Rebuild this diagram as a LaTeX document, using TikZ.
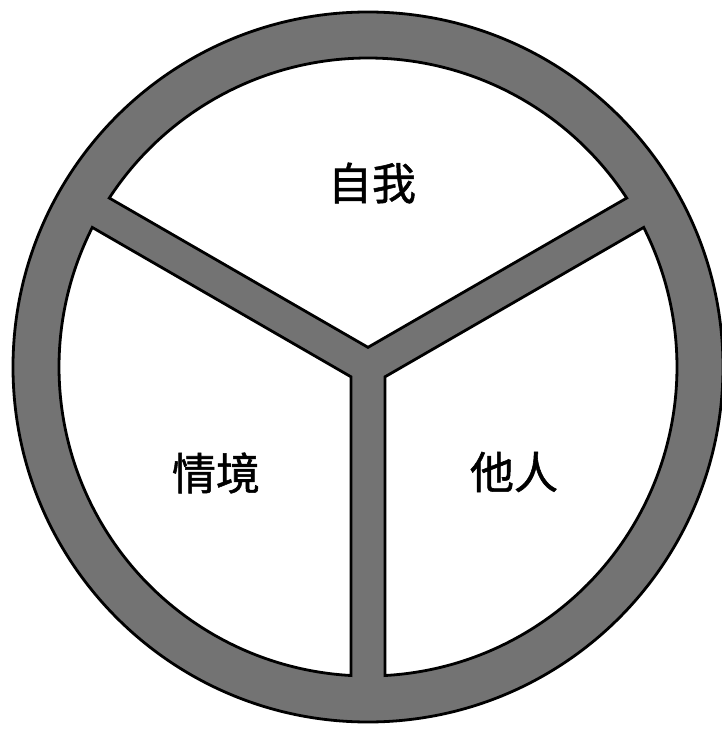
\documentclass[tikz,border=0pt]{standalone}
\usepackage{fontspec}
\newfontfamily\cjk[FakeBold=1.2]{Noto Sans CJK SC}
\begin{document}
\begin{tikzpicture}[x=0.5pt,y=0.5pt,
  ring/.style={draw=black,line width=1.4pt,fill=black!55},
  room/.style={draw=black,line width=1.4pt,fill=white},
  word/.style={font=\cjk\fontsize{22}{22}\selectfont}]
  \useasboundingbox (-368,367) rectangle (354,-366);
  \draw[ring](0,0) circle(355);
  % three white parts between the spokes
  \draw[room](90:19.63)--(33.15:309) arc[start angle=33.15,end angle=146.85,radius=309]--cycle;
  \draw[room](210:19.63)--(153.15:309) arc[start angle=153.15,end angle=266.85,radius=309]--cycle;
  \draw[room](-30:19.63)--(-86.85:309) arc[start angle=-86.85,end angle=26.85,radius=309]--cycle;
  \node[word] (self) at (4,184){自我};
  \node[word] (scene) at (-152,-106){情境};
  \node[word] (other) at (146,-105){他人};
\end{tikzpicture}
\end{document}
